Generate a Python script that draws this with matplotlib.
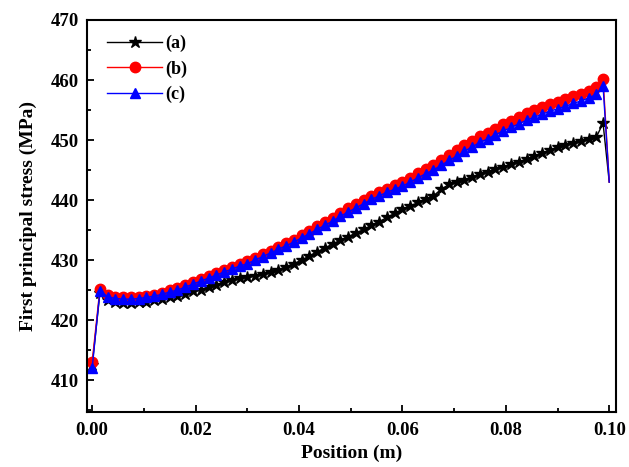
import numpy as np
import matplotlib
matplotlib.use('Agg')
import matplotlib.pyplot as plt
from matplotlib.ticker import MultipleLocator

plt.rcParams['font.family'] = ['Liberation Serif', 'DejaVu Serif']
plt.rcParams['font.weight'] = 'bold'

# positions (m): start node, regular nodes, peak node, end node
grid = [round(0.0015 * k, 4) for k in range(1, 66)]
position = [0.0] + grid + [0.0988, 0.1000]

# (a) black stars
stress_a = [412.5,
            424.5, 423.3, 423.0, 422.9, 422.9, 423.0, 423.1, 423.3, 423.5, 423.8,
            424.1, 424.4, 424.8, 425.1, 425.5, 425.9, 426.3, 426.7, 427.0, 427.2,
            427.4, 427.7, 428.0, 428.4, 428.9, 429.4, 430.0, 430.7, 431.4, 432.0,
            432.7, 433.3, 433.9, 434.5, 435.1, 435.8, 436.4, 437.1, 437.8, 438.5,
            439.0, 439.6, 440.2, 440.7, 441.8, 442.6, 443.0, 443.4, 443.9, 444.3,
            444.7, 445.1, 445.5, 446.0, 446.4, 446.8, 447.3, 447.8, 448.3, 448.8,
            449.2, 449.5, 449.8, 450.1, 450.5,
            452.8, 443.0]

# (b) red circles
stress_b = [413.0,
            425.2, 424.2, 423.9, 423.8, 423.8, 423.9, 424.0, 424.2, 424.5, 425.0,
            425.3, 425.8, 426.3, 426.8, 427.3, 427.8, 428.4, 428.9, 429.4, 429.8,
            430.4, 431.0, 431.6, 432.2, 432.8, 433.4, 434.2, 434.9, 435.6, 436.3,
            437.0, 437.8, 438.6, 439.3, 440.0, 440.7, 441.3, 441.9, 442.5, 443.0,
            443.7, 444.5, 445.2, 445.8, 446.7, 447.5, 448.3, 449.1, 449.8, 450.6,
            451.2, 451.9, 452.6, 453.2, 453.8, 454.5, 455.0, 455.5, 456.0, 456.4,
            456.8, 457.3, 457.7, 458.2, 458.8,
            460.2, 443.0]

# (c) blue triangles
stress_c = [412.0,
            424.9, 423.9, 423.6, 423.5, 423.5, 423.6, 423.8, 424.0, 424.3, 424.7,
            425.0, 425.5, 426.0, 426.5, 427.0, 427.5, 428.0, 428.5, 429.0, 429.4,
            430.0, 430.6, 431.2, 431.8, 432.4, 433.0, 433.7, 434.4, 435.1, 435.8,
            436.5, 437.3, 438.0, 438.7, 439.4, 440.1, 440.7, 441.3, 441.8, 442.3,
            443.0, 443.7, 444.4, 445.0, 445.8, 446.6, 447.3, 448.1, 448.9, 449.6,
            450.2, 450.9, 451.5, 452.1, 452.7, 453.3, 453.8, 454.3, 454.8, 455.2,
            455.6, 456.1, 456.5, 457.0, 457.6,
            459.0, 443.0]

labels = ['(a)', '(b)', '(c)']

fig = plt.figure(figsize=(6.29, 4.67), dpi=100)
ax = fig.add_axes([0.1383, 0.1178, 0.841, 0.8394])

marks = list(range(len(position) - 1))  # no marker on the end node
ax.plot(position, stress_a, color='black', marker='*', ms=9, lw=1,
        markevery=marks, label=labels[0])
ax.plot(position, stress_b, color='red', marker='o', ms=7.5, lw=1,
        markevery=marks, label=labels[1])
ax.plot(position, stress_c, color='blue', marker='^', ms=7.5, lw=1,
        markevery=marks, label=labels[2])

ax.set_xlim(-0.001, 0.1013)
ax.set_ylim(404.7, 470)
ax.xaxis.set_major_locator(MultipleLocator(0.02))
ax.xaxis.set_minor_locator(MultipleLocator(0.01))
ax.yaxis.set_major_locator(MultipleLocator(10))
ax.yaxis.set_minor_locator(MultipleLocator(5))
ax.xaxis.set_major_formatter(plt.FormatStrFormatter('%.2f'))
ax.tick_params(which='both', direction='in', top=False, right=False,
               labelsize=13.5, width=1.3)
ax.tick_params(which='major', length=5)
ax.tick_params(axis='x', which='major', pad=7)
ax.tick_params(axis='y', which='major', pad=6)
ax.tick_params(which='minor', length=3)
for s in ax.spines.values():
    s.set_linewidth(1.5)

ax.set_xlabel('Position (m)', fontsize=14, fontweight='bold', labelpad=4)
ax.set_ylabel('First principal stress (MPa)', fontsize=14, fontweight='bold', labelpad=10)

ax.legend(loc='upper left', bbox_to_anchor=(0.025, 0.98), frameon=False,
          fontsize=13, handlelength=3, handletextpad=0.2, labelspacing=0.45,
          borderaxespad=0)

fig.savefig('out.png', dpi=100)
